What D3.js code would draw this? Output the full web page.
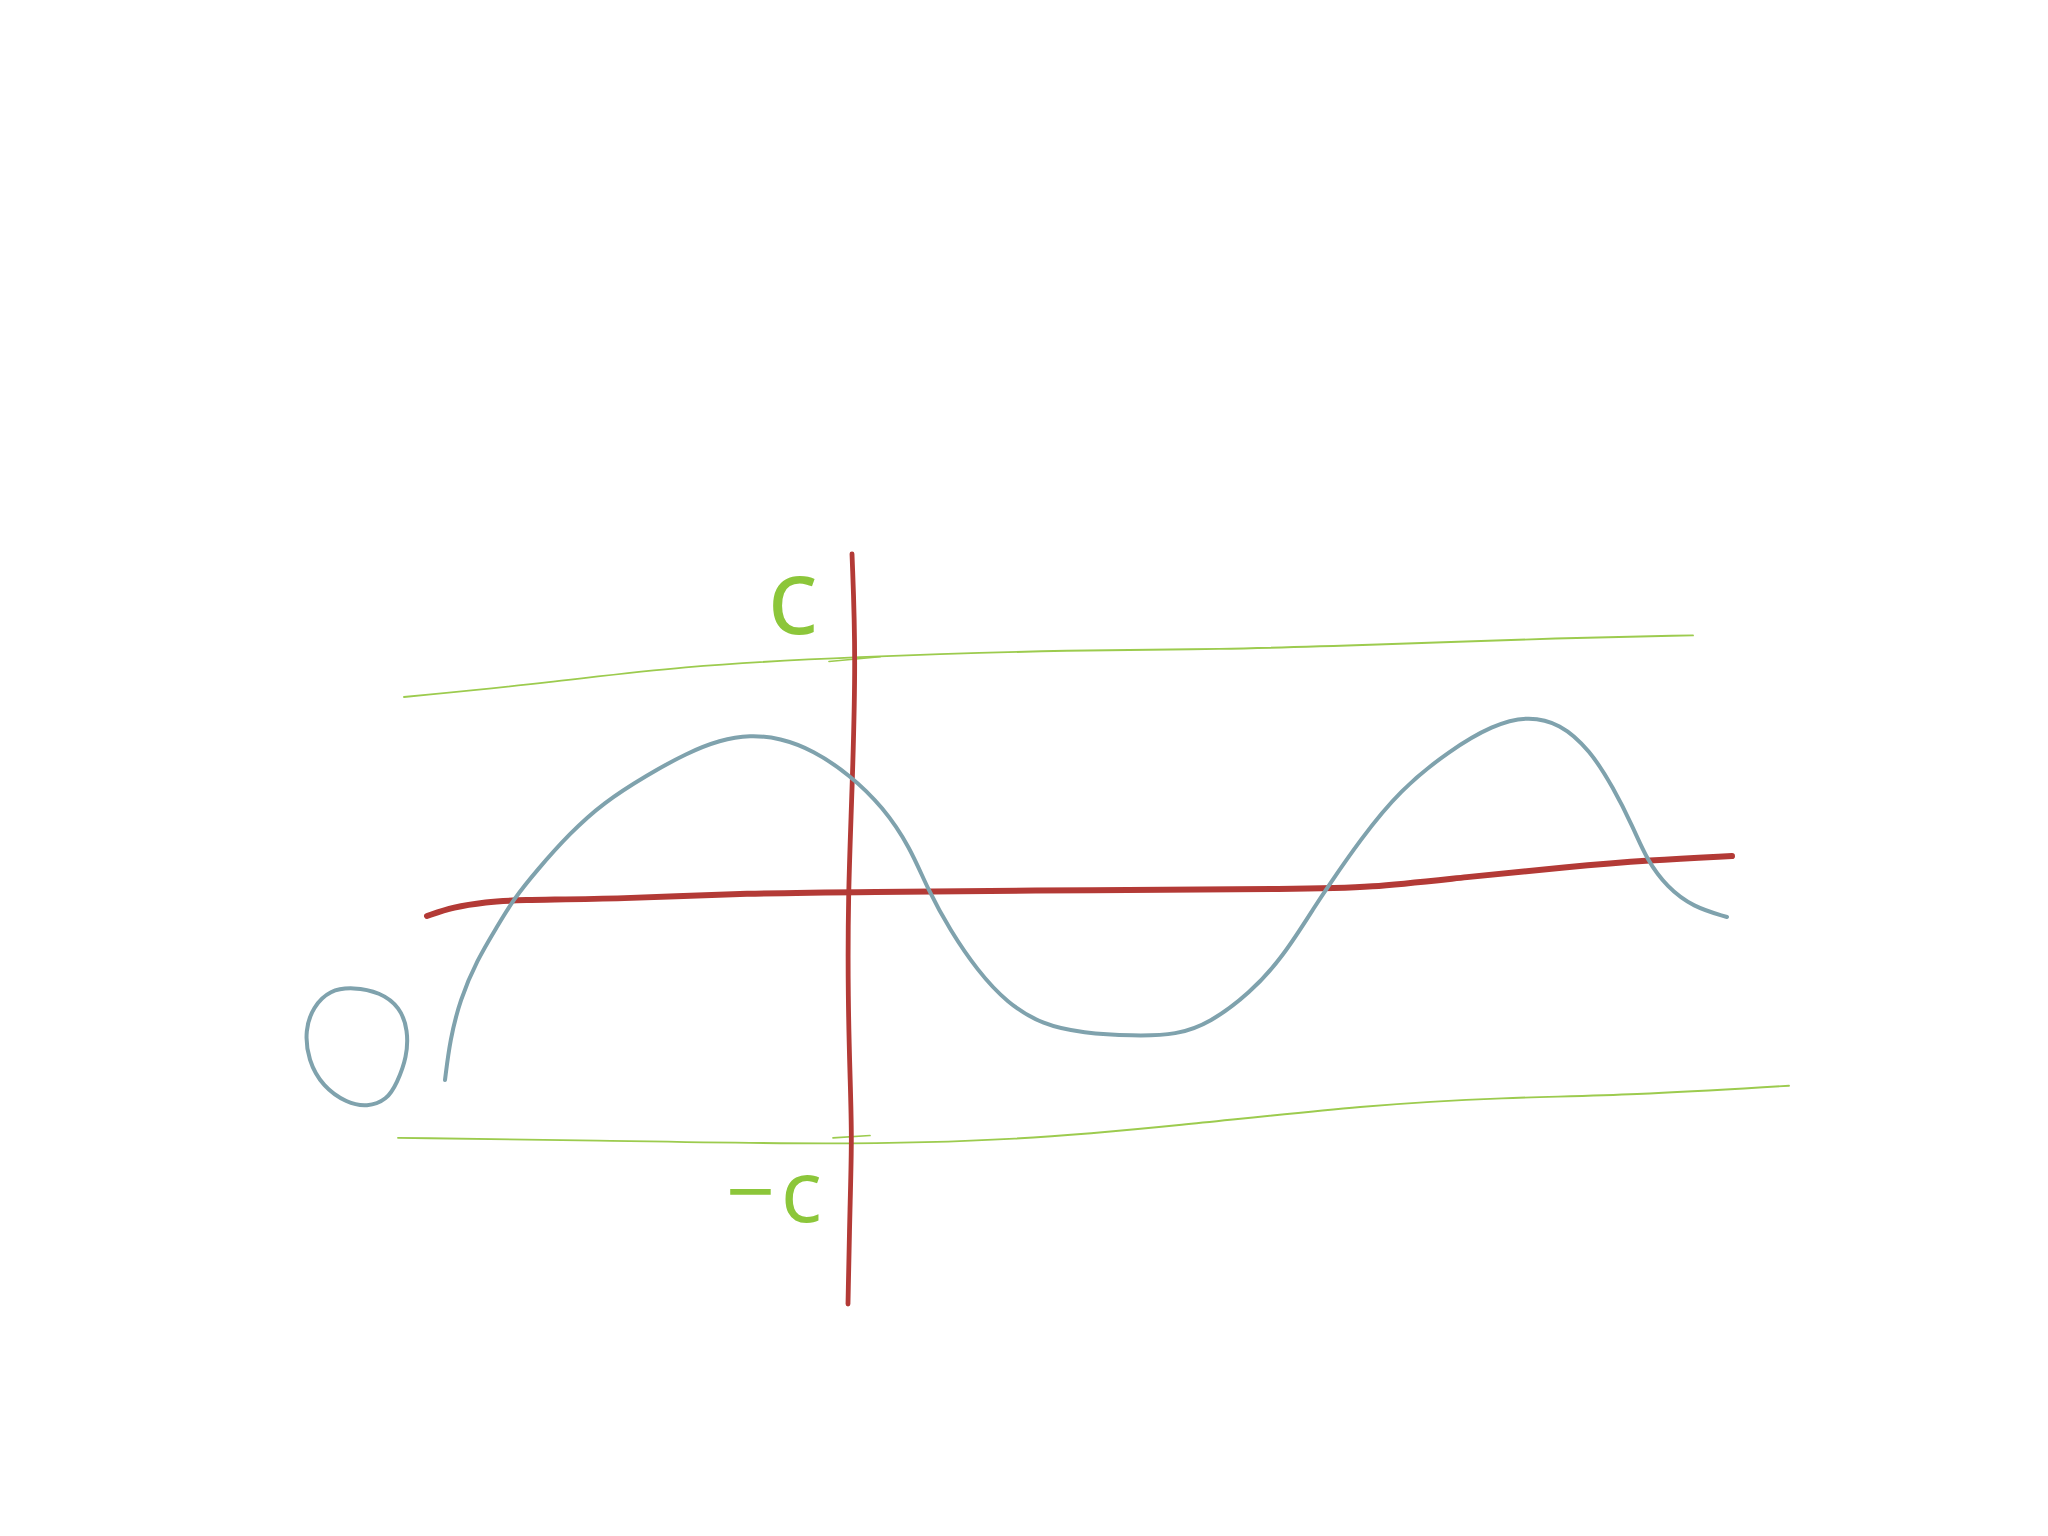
<!DOCTYPE html>
<html>
<head>
<meta charset="utf-8">
<script src="https://cdn.jsdelivr.net/npm/d3@7"></script>
<style>
  html, body { margin: 0; padding: 0; background: #ffffff; }
  svg { display: block; }
</style>
</head>
<body>
<svg id="chart" width="2048" height="1536"></svg>
<script>
// ---- data (sketch units: vertical axis at x = 0, horizontal axis at y = 0, c = 1) ----
const waveX = [-4.06,-4.01,-3.91,-3.74,-3.54,-3.38,-3.14,-2.81,-2.48,-2.04,-1.64,-1.31,-1.01,-0.71,-0.38,-0.01,0.32,0.59,0.77,0.99,1.26,1.56,1.92,2.32,2.82,3.26,3.59,3.99,4.32,4.66,4.76,5.09,5.49,5.99,6.42,6.76,7.09,7.39,7.62,7.82,7.96,8.16,8.42,8.76];
const waveY = [-0.806,-0.637,-0.468,-0.300,-0.160,-0.046,0.080,0.236,0.363,0.481,0.574,0.629,0.650,0.637,0.586,0.481,0.346,0.177,-0.004,-0.173,-0.342,-0.481,-0.574,-0.608,-0.620,-0.616,-0.565,-0.439,-0.287,-0.059,0.004,0.207,0.418,0.586,0.692,0.730,0.700,0.586,0.430,0.262,0.122,0.008,-0.076,-0.118];

const hAxisX = [-4.24,-3.98,-3.64,-3.38,-2.31,-0.98,-0.01,2.49,4.49,5.16,6.16,7.16,7.99,8.81];
const hAxisY = [-0.114,-0.076,-0.055,-0.046,-0.042,-0.017,-0.013,-0.004,0.000,0.004,0.051,0.093,0.122,0.139];

const vAxisX = [0.01,0.05,0.01,-0.03,-0.03,-0.01,0.01,-0.01,-0.03];
const vAxisY = [1.414,0.979,0.397,-0.034,-0.468,-0.789,-1.051,-1.329,-1.751];

const upperX = [-4.47,-3.02,-1.72,-0.02,2.33,3.64,5.20,7.16,8.42];
const upperY = [0.81,0.87,0.94,0.98,1.01,1.01,1.03,1.06,1.07];

const lowerX = [-4.53,-2.63,-0.15,1.68,3.24,5.20,6.51,7.82,9.38];
const lowerY = [-1.05,-1.06,-1.08,-1.06,-1.00,-0.91,-0.88,-0.87,-0.83];

const tickUpperX = [-0.22,0.29];
const tickUpperY = [0.96,0.98];
const tickLowerX = [-0.18,0.19];
const tickLowerY = [-1.05,-1.04];

const loopX = [-4.98,-4.71,-4.51,-4.43,-4.44,-4.54,-4.64,-4.84,-5.04,-5.28,-5.43,-5.46,-5.38,-5.21];
const loopY = [-0.414,-0.435,-0.498,-0.595,-0.709,-0.819,-0.890,-0.920,-0.903,-0.835,-0.722,-0.595,-0.498,-0.426];

const labels = ["c", "−c"];
const labelX = [-0.33, -0.23];
const labelY = [1.076, -1.405];

// ---- drawing ----
const svg = d3.select("#chart");
const x = d3.scaleLinear().domain([-5, 10]).range([351, 1851]);
const y = d3.scaleLinear().domain([-2, 2]).range([1363, 415]);

const zip = (xs, ys) => xs.map((v, i) => [v, ys[i]]);
const smooth = d3.line().x(d => x(d[0])).y(d => y(d[1])).curve(d3.curveBasis);
const closed = d3.line().x(d => x(d[0])).y(d => y(d[1])).curve(d3.curveBasisClosed);

const RED = "#b33a36", BLUE = "#7fa2ad", GREEN = "#9ccb4e", GREEN_TXT = "#8cc63a";

function stroke(path, color, w) {
  svg.append("path").attr("d", path)
    .attr("fill", "none").attr("stroke", color).attr("stroke-width", w)
    .attr("stroke-linecap", "round").attr("stroke-linejoin", "round");
}

// green bounds
stroke(smooth(zip(upperX, upperY)), GREEN, 1.9);
stroke(smooth(zip(lowerX, lowerY)), GREEN, 1.9);
stroke(smooth(zip(tickUpperX, tickUpperY)), GREEN, 1.7);
stroke(smooth(zip(tickLowerX, tickLowerY)), GREEN, 1.7);

// axes
stroke(smooth(zip(hAxisX, hAxisY)), RED, 6);
stroke(smooth(zip(vAxisX, vAxisY)), RED, 4.8);

// wave and loop
stroke(smooth(zip(waveX, waveY)), BLUE, 4);
stroke(closed(zip(loopX, loopY)), BLUE, 4);

// labels
svg.selectAll("text.lbl").data(labels).join("text")
  .attr("class", "lbl")
  .attr("x", (d, i) => x(labelX[i]))
  .attr("y", (d, i) => y(labelY[i]))
  .attr("text-anchor", "end")
  .attr("font-family", "'Open Sans', sans-serif")
  .attr("font-size", (d, i) => i === 0 ? 106 : 86)
  .attr("letter-spacing", (d, i) => i === 0 ? 0 : 6)
  .attr("fill", GREEN_TXT)
  .text(d => d);
</script>
</body>
</html>
